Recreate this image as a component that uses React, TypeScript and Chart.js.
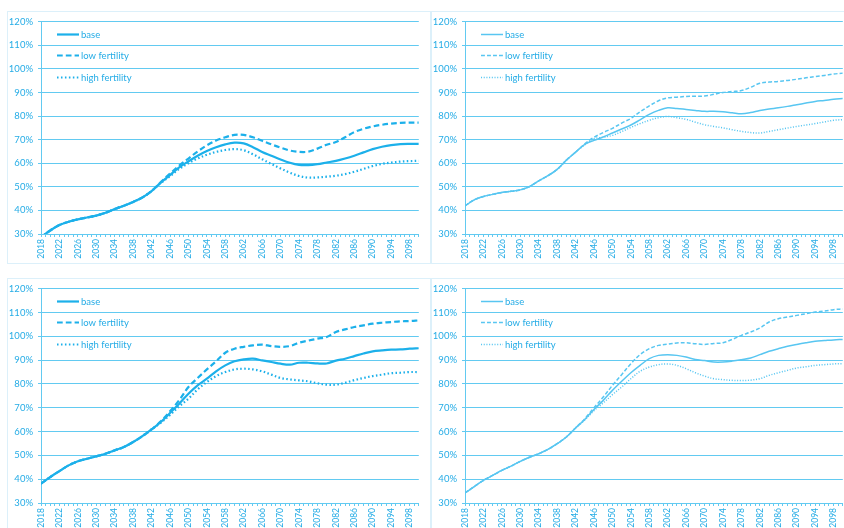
import { useEffect, useRef } from "react";
import { Chart, registerables } from "chart.js";

Chart.register(...registerables);

// Projection years (every second year)
const years = [
  2018, 2020, 2022, 2024, 2026, 2028, 2030, 2032, 2034, 2036, 2038, 2040, 2042,
  2044, 2046, 2048, 2050, 2052, 2054, 2056, 2058, 2060, 2062, 2064, 2066, 2068,
  2070, 2072, 2074, 2076, 2078, 2080, 2082, 2084, 2086, 2088, 2090, 2092, 2094,
  2096, 2098, 2100,
];

const yTicks = [30, 40, 50, 60, 70, 80, 90, 100, 110, 120];
const seriesLabels = ["base", "low fertility", "high fertility"];

// Panel 1 (top left)
const p1Base = [
  28.6, 31.5, 33.8, 35.2, 36.2, 37.0, 37.8, 39.0, 40.6, 42.0, 43.6, 45.5, 48.2,
  51.8, 55.0, 58.2, 60.8, 63.2, 65.2, 66.8, 68.0, 68.7, 68.4, 66.8, 64.8, 63.2,
  61.6, 60.2, 59.3, 59.2, 59.6, 60.3, 61.0, 62.0, 63.2, 64.6, 66.0, 67.0, 67.7,
  68.1, 68.2, 68.2,
];
const p1Low = [
  28.6, 31.5, 33.8, 35.2, 36.2, 37.0, 37.8, 39.0, 40.6, 42.0, 43.6, 45.5, 48.2,
  52.0, 55.6, 59.0, 62.0, 65.0, 67.6, 69.6, 71.0, 72.0, 72.0, 71.0, 69.5, 68.0,
  66.6, 65.4, 64.8, 64.9, 66.2, 67.8, 69.0, 71.0, 73.2, 74.6, 75.6, 76.3, 76.8,
  77.1, 77.2, 77.2,
];
const p1High = [
  28.6, 31.5, 33.8, 35.2, 36.2, 37.0, 37.8, 39.0, 40.6, 42.0, 43.6, 45.5, 48.2,
  51.6, 54.5, 57.6, 60.0, 62.0, 63.6, 64.8, 65.6, 66.0, 65.5, 63.8, 61.7, 59.7,
  57.8, 56.0, 54.6, 53.9, 54.0, 54.3, 54.7, 55.4, 56.4, 57.6, 58.8, 59.7, 60.3,
  60.7, 60.9, 61.0,
];

// Panel 2 (top right)
const p2Base = [
  41.9, 44.5, 45.9, 46.8, 47.6, 48.1, 48.7, 50.1, 52.5, 54.7, 57.4, 61.3, 64.7,
  68.0, 69.7, 71.1, 72.8, 74.5, 76.2, 78.4, 80.7, 82.4, 83.5, 83.2, 82.8, 82.4,
  82.0, 82.0, 81.8, 81.4, 81.0, 81.5, 82.4, 83.0, 83.5, 84.1, 84.8, 85.5, 86.2,
  86.6, 87.1, 87.4,
];
const p2Low = [
  41.9, 44.5, 45.9, 46.8, 47.6, 48.1, 48.7, 50.1, 52.5, 54.7, 57.4, 61.3, 64.7,
  68.2, 71.0, 73.0, 74.8, 77.0, 79.0, 81.8, 84.3, 86.5, 87.7, 88.0, 88.3, 88.4,
  88.5, 89.2, 90.0, 90.4, 90.8, 92.2, 93.9, 94.4, 94.7, 95.1, 95.6, 96.2, 96.7,
  97.2, 97.8, 98.2,
];
const p2High = [
  41.9, 44.5, 45.9, 46.8, 47.6, 48.1, 48.7, 50.1, 52.5, 54.7, 57.4, 61.3, 64.7,
  67.8, 70.4, 71.0, 71.8, 73.4, 75.2, 76.8, 78.2, 79.3, 79.8, 79.3, 78.6, 77.4,
  76.3, 75.6, 75.0, 74.2, 73.5, 73.0, 72.8, 73.5, 74.2, 74.9, 75.6, 76.2, 76.8,
  77.5, 78.2, 78.5,
];

// Panel 3 (bottom left)
const p3Base = [
  38.1, 40.9, 43.4, 45.8, 47.5, 48.6, 49.6, 50.7, 52.1, 53.5, 55.6, 58.1, 60.9,
  64.0, 67.8, 71.7, 75.9, 79.4, 82.2, 85.3, 87.8, 89.5, 90.3, 90.6, 89.9, 89.2,
  88.5, 88.1, 88.9, 88.9, 88.6, 88.6, 89.8, 90.6, 91.7, 92.8, 93.7, 94.1, 94.4,
  94.5, 94.8, 95.0,
];
const p3Low = [
  38.1, 40.9, 43.4, 45.8, 47.5, 48.6, 49.6, 50.7, 52.1, 53.5, 55.6, 58.1, 60.9,
  64.3, 68.5, 73.2, 78.7, 82.5, 86.1, 89.5, 93.1, 94.8, 95.6, 96.2, 96.5, 95.9,
  95.6, 95.9, 97.3, 98.2, 99.0, 99.7, 101.8, 102.9, 103.9, 104.6, 105.3, 105.7,
  106.0, 106.3, 106.4, 106.7,
];
const p3High = [
  38.1, 40.9, 43.4, 45.8, 47.5, 48.6, 49.6, 50.7, 52.1, 53.5, 55.6, 58.1, 60.9,
  63.7, 67.0, 70.6, 73.8, 77.7, 80.8, 83.3, 85.0, 86.1, 86.4, 86.1, 85.3, 83.9,
  82.5, 81.9, 81.5, 81.1, 80.3, 79.7, 79.7, 80.5, 81.6, 82.5, 83.3, 83.9, 84.5,
  84.7, 85.0, 85.0,
];

// Panel 4 (bottom right)
const p4Base = [
  34.2, 36.9, 39.5, 41.6, 43.7, 45.5, 47.5, 49.2, 50.7, 52.5, 54.9, 57.7, 61.5,
  65.1, 69.3, 73.1, 77.3, 81.1, 84.7, 87.8, 90.6, 92.0, 92.3, 92.0, 91.3, 90.3,
  89.8, 89.2, 89.2, 89.6, 90.2, 90.9, 92.3, 93.7, 94.8, 95.8, 96.6, 97.3, 97.9,
  98.2, 98.5, 98.7,
];
const p4Low = [
  34.2, 36.9, 39.5, 41.6, 43.7, 45.5, 47.5, 49.2, 50.7, 52.5, 54.9, 57.7, 61.5,
  65.4, 70.0, 74.5, 79.4, 83.9, 88.5, 92.3, 94.8, 96.2, 96.7, 97.2, 97.3, 96.9,
  96.6, 97.0, 97.3, 98.7, 100.4, 101.8, 103.5, 106.0, 107.4, 108.1, 108.8,
  109.5, 110.2, 110.6, 111.2, 111.5,
];
const p4High = [
  34.2, 36.9, 39.5, 41.6, 43.7, 45.5, 47.5, 49.2, 50.7, 52.5, 54.9, 57.7, 61.5,
  64.8, 68.8, 72.0, 75.5, 78.7, 82.2, 85.3, 87.1, 88.1, 88.4, 87.8, 86.4, 84.7,
  83.3, 82.2, 81.8, 81.5, 81.4, 81.6, 82.2, 83.6, 84.7, 85.7, 86.7, 87.2, 87.8,
  88.1, 88.4, 88.5,
];

const TEXT = "#25ace6";
const GRID = "#62caf1";
const FONT = "Lato, 'Open Sans', sans-serif";

// Legend drawn inside the plot area, top-left, one row per series
const insideLegend = {
  id: "insideLegend",
  afterDraw(chart: any) {
    const { ctx, chartArea } = chart;
    ctx.save();
    chart.data.datasets.forEach((ds: any, i: number) => {
      const y = Math.round(chartArea.top + 12 + i * 21.7) + 0.5;
      const x0 = chartArea.left + 16;
      ctx.strokeStyle = ds.borderColor;
      ctx.lineWidth = ds.borderWidth;
      ctx.setLineDash(ds.borderDash || []);
      ctx.beginPath();
      ctx.moveTo(x0, y);
      ctx.lineTo(x0 + 22, y);
      ctx.stroke();
      ctx.setLineDash([]);
      ctx.fillStyle = TEXT;
      ctx.font = `9.5px ${FONT}`;
      ctx.textBaseline = "middle";
      ctx.textAlign = "left";
      ctx.fillText(ds.label, x0 + 24, y);
    });
    ctx.restore();
  },
};

type PanelProps = {
  left: number;
  top: number;
  width: number;
  height: number;
  plotTop: number;
  xAxisHeight: number;
  base: number[];
  low: number[];
  high: number[];
  color: string;
  lineWidth: number;
};

function Panel(p: PanelProps) {
  const ref = useRef<HTMLCanvasElement | null>(null);

  useEffect(() => {
    if (!ref.current) return;
    const w = p.lineWidth;
    const toPoints = (vals: number[]) => vals.map((v, i) => ({ x: years[i], y: v }));
    const series = [p.base, p.low, p.high];
    const dashes = [[], [w * 2.6, w * 1.4], [w * 0.7, w * 1.1]];
    const chart = new Chart(ref.current, {
      type: "line",
      data: {
        datasets: series.map((vals, i) => ({
          label: seriesLabels[i],
          data: toPoints(vals),
          borderColor: p.color,
          backgroundColor: p.color,
          borderWidth: w,
          borderDash: dashes[i],
          pointRadius: 0,
          tension: 0.35,
          fill: false,
        })),
      },
      options: {
        animation: false,
        responsive: false,
        devicePixelRatio: 1,
        layout: { padding: { top: p.plotTop, right: 9, left: 0, bottom: 0 } },
        plugins: { legend: { display: false }, tooltip: { enabled: false } },
        scales: {
          x: {
            type: "linear",
            min: years[0],
            max: years[years.length - 1],
            afterFit: (s: any) => {
              s.height = p.xAxisHeight;
            },
            afterBuildTicks: (s: any) => {
              const t = [];
              for (let v = years[0]; v <= years[years.length - 1]; v++) t.push({ value: v });
              s.ticks = t;
            },
            ticks: {
              autoSkip: false,
              minRotation: 90,
              maxRotation: 90,
              padding: 2,
              color: TEXT,
              font: { family: FONT, size: 8.5 },
              callback: (v: any) => ((v - 2018) % 4 === 0 ? String(v) : ""),
            },
            grid: {
              drawOnChartArea: false,
              drawTicks: true,
              tickLength: 3,
              color: GRID,
            },
            border: { color: GRID, width: 1 },
          },
          y: {
            min: yTicks[0],
            max: yTicks[yTicks.length - 1],
            afterFit: (s: any) => {
              s.width = 34;
            },
            afterBuildTicks: (s: any) => {
              s.ticks = yTicks.map((v) => ({ value: v }));
            },
            ticks: {
              padding: 5,
              color: TEXT,
              font: { family: FONT, size: 9.5 },
              callback: (v: any) => `${v}%`,
            },
            grid: { color: GRID, lineWidth: 1, tickLength: 3 },
            border: { color: GRID, width: 1 },
          },
        },
      },
      plugins: [insideLegend],
    });
    return () => chart.destroy();
  }, []);

  return (
    <div
      style={{
        position: "absolute",
        left: p.left,
        top: p.top,
        width: p.width,
        height: p.height,
        border: "1px solid #dcf0fa",
        boxSizing: "border-box",
      }}
    >
      <canvas
        ref={ref}
        width={p.width}
        height={p.height}
        style={{ position: "absolute", left: -1, top: -1, width: p.width, height: p.height }}
      />
    </div>
  );
}

export default function App() {
  const thick = { color: "#1cb0ea", lineWidth: 2.2 };
  const thin = { color: "#58c6f1", lineWidth: 1.5 };
  return (
    <div
      style={{
        position: "fixed",
        left: 0,
        top: 0,
        width: 844,
        height: 528,
        overflow: "hidden",
        background: "#ffffff",
      }}
    >
      <Panel left={7} top={11} width={424} height={253} plotTop={9} xAxisHeight={30} base={p1Base} low={p1Low} high={p1High} {...thick} />
      <Panel left={431} top={11} width={424} height={253} plotTop={9} xAxisHeight={30} base={p2Base} low={p2Low} high={p2High} {...thin} />
      <Panel left={7} top={278} width={424} height={253} plotTop={10} xAxisHeight={28} base={p3Base} low={p3Low} high={p3High} {...thick} />
      <Panel left={431} top={278} width={424} height={253} plotTop={10} xAxisHeight={28} base={p4Base} low={p4Low} high={p4High} {...thin} />
    </div>
  );
}
